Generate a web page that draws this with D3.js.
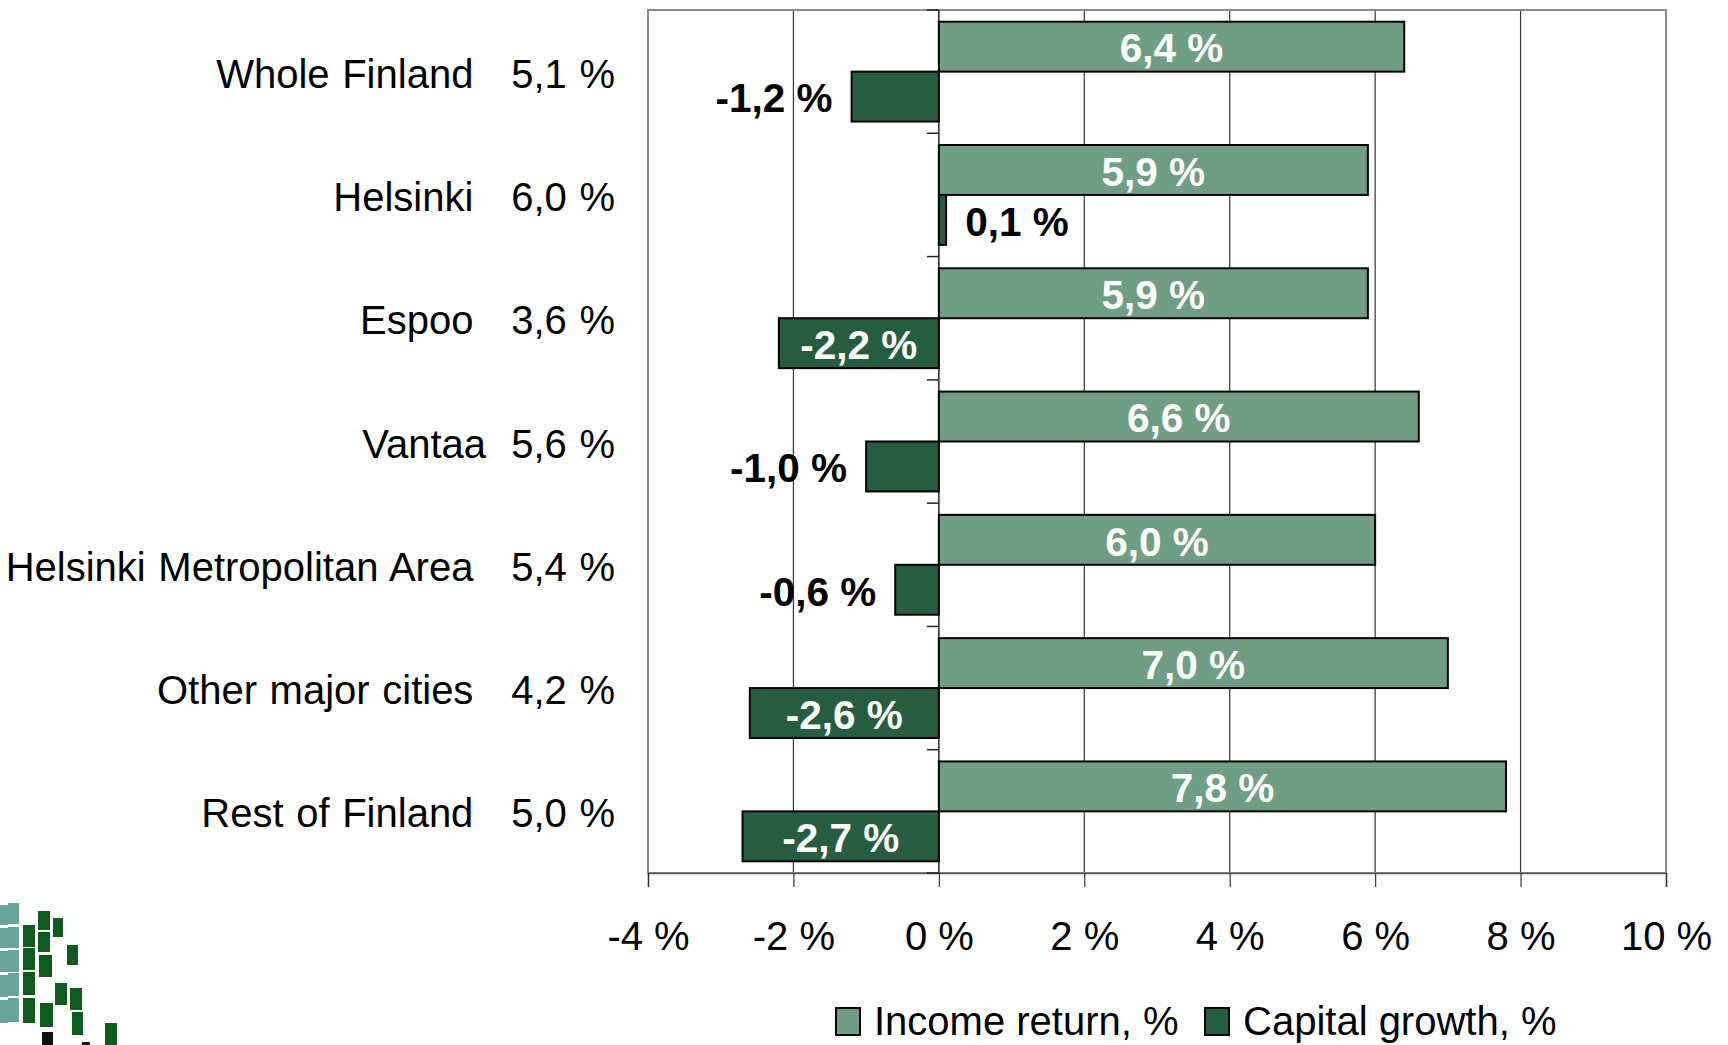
<!DOCTYPE html>
<html>
<head>
<meta charset="utf-8">
<script src="https://cdn.jsdelivr.net/npm/d3@7"></script>
<style>
  html, body { margin: 0; padding: 0; background: #fff; }
  svg { display: block; }
  svg text { font-family: Arial, "Liberation Sans", sans-serif; }
  .rowlabel { white-space: pre; word-spacing: 1.5px; }
</style>
</head>
<body>
<script>
'use strict';

// row labels as in the workbook (name + total return)
let rowLabels = [
  'Whole Finland   5,1 %',
  'Helsinki   6,0 %',
  'Espoo   3,6 %',
  'Vantaa  5,6 %',
  'Helsinki Metropolitan Area   5,4 %',
  'Other major cities   4,2 %',
  'Rest of Finland   5,0 %'
];
let incomeReturn = [6.4, 5.9, 5.9, 6.6, 6.0, 7.0, 7.8];
let capitalGrowth = [-1.2, 0.1, -2.2, -1.0, -0.6, -2.6, -2.7];
let seriesNames = ['Income return, %', 'Capital growth, %'];
let xTicks = [-4, -2, 0, 2, 4, 6, 8, 10];

let width = 1728;
let height = 1045;

let plot = { left: 648, right: 1666, top: 10, bottom: 873 };

let colors = ['#6f9e85', '#265c40'];

let x = d3.scaleLinear()
  .domain([-4, 10])
  .range([plot.left, plot.right]);

let y = d3.scaleBand()
  .domain(d3.range(rowLabels.length))
  .range([plot.top, plot.bottom])
  .paddingInner(0.19)
  .paddingOuter(0.095);

let ySeries = d3.scaleBand()
  .domain([0, 1])
  .range([0, y.bandwidth()]);

let fmt = (v) => v.toFixed(1).replace('.', ',') + ' %';

let svg = d3.select('body').append('svg')
  .attr('width', width)
  .attr('height', height);

// logo in the lower left corner
let logoCells = [
  [0, 905, 8, 20, '#6aa39b'], [8, 903, 11, 21, '#6aa39b'],
  [0, 928, 8, 20, '#6aa39b'], [8, 927, 11, 21, '#6aa39b'],
  [0, 951, 8, 21, '#6aa39b'], [8, 950, 11, 22, '#6aa39b'],
  [0, 975, 8, 22, '#6aa39b'], [8, 973, 11, 23, '#6aa39b'],
  [0, 1000, 8, 23, '#6aa39b'], [8, 998, 11, 24, '#6aa39b'],
  [23, 925, 12, 22, '#0f5a1c'], [38, 911, 12, 19, '#0f5a1c'],
  [53, 918, 10, 19, '#0f5a1c'], [38, 932, 12, 20, '#0f5a1c'],
  [23, 948, 12, 22, '#0f5a1c'], [39, 955, 13, 22, '#0f5a1c'],
  [67, 945, 11, 20, '#0f5a1c'], [23, 972, 12, 23, '#0f5a1c'],
  [55, 983, 12, 22, '#0f5a1c'], [70, 988, 12, 22, '#0f5a1c'],
  [23, 998, 12, 25, '#0f5a1c'], [40, 1003, 13, 24, '#0f5a1c'],
  [72, 1012, 11, 23, '#0f5a1c'], [105, 1023, 12, 22, '#0f5a1c'],
  [42, 1032, 11, 13, '#111'], [82, 1042, 8, 3, '#111']
];

svg.append('g').selectAll('rect')
  .data(logoCells)
  .enter().append('rect')
    .attr('x', (d) => d[0])
    .attr('y', (d) => d[1])
    .attr('width', (d) => d[2])
    .attr('height', (d) => d[3])
    .attr('fill', (d) => d[4]);

// vertical gridlines
svg.append('g').selectAll('line')
  .data(xTicks.filter((t) => t > -4 && t < 10 && t !== 0))
  .enter().append('line')
    .attr('x1', (d) => x(d)).attr('x2', (d) => x(d))
    .attr('y1', plot.top).attr('y2', plot.bottom)
    .attr('stroke', '#333')
    .attr('stroke-width', 1.2);

// plot frame
svg.append('rect')
  .attr('x', plot.left)
  .attr('y', plot.top)
  .attr('width', plot.right - plot.left)
  .attr('height', plot.bottom - plot.top)
  .attr('fill', 'none')
  .attr('stroke', '#8a8a8a')
  .attr('stroke-width', 2);

// bottom value axis
let xAxis = svg.append('g')
  .attr('transform', `translate(0,${plot.bottom})`)
  .call(d3.axisBottom(x)
    .tickValues(xTicks)
    .tickSize(14)
    .tickPadding(35)
    .tickFormat((d) => d + ' %'));

xAxis.attr('font-family', null);
xAxis.select('.domain').attr('stroke', '#555').attr('stroke-width', 1.5);
xAxis.selectAll('.tick line').attr('stroke', '#333').attr('stroke-width', 1.2);
xAxis.selectAll('.tick text')
  .attr('fill', '#000')
  .attr('font-size', 40);

// category axis on the zero line
let yAxis = svg.append('g')
  .attr('transform', `translate(${x(0)},0)`);

yAxis.append('line')
  .attr('y1', plot.top).attr('y2', plot.bottom)
  .attr('stroke', '#222')
  .attr('stroke-width', 1.5);

let bounds = d3.range(rowLabels.length + 1).map((i) => plot.top + i * y.step());
yAxis.selectAll('.ctick')
  .data(bounds)
  .enter().append('line')
    .attr('class', 'ctick')
    .attr('x1', -12).attr('x2', 0)
    .attr('y1', (d) => d).attr('y2', (d) => d)
    .attr('stroke', '#222')
    .attr('stroke-width', 1.5);

// bars
let series = [incomeReturn, capitalGrowth];

let groups = svg.append('g').selectAll('g')
  .data(rowLabels.map((r, i) => i))
  .enter().append('g')
    .attr('transform', (i) => `translate(0,${y(i)})`);

groups.selectAll('rect')
  .data((i) => series.map((s, k) => ({ k: k, v: s[i] })))
  .enter().append('rect')
    .attr('x', (d) => x(Math.min(0, d.v)))
    .attr('y', (d) => ySeries(d.k))
    .attr('width', (d) => Math.abs(x(d.v) - x(0)))
    .attr('height', ySeries.bandwidth())
    .attr('fill', (d) => colors[d.k])
    .attr('stroke', '#000')
    .attr('stroke-width', 2);

// data labels: centred inside when they fit, otherwise outside the bar end
let labelWidth = 105;
groups.selectAll('text.val')
  .data((i) => series.map((s, k) => ({ k: k, v: s[i] })))
  .enter().append('text')
    .attr('class', 'val')
    .attr('font-size', 40.5)
    .attr('font-weight', 'bold')
    .attr('dy', '0.39em')
    .attr('y', (d) => ySeries(d.k) + ySeries.bandwidth() / 2)
    .each(function(d) {
      let w = Math.abs(x(d.v) - x(0));
      let t = d3.select(this).text(fmt(d.v));
      if (w > labelWidth + 20) {
        t.attr('x', (x(d.v) + x(0)) / 2)
          .attr('text-anchor', 'middle')
          .attr('fill', '#fff');
      } else if (d.v < 0) {
        t.attr('x', x(d.v) - 19)
          .attr('text-anchor', 'end')
          .attr('fill', '#000');
      } else {
        t.attr('x', x(d.v) + 19)
          .attr('text-anchor', 'start')
          .attr('fill', '#000');
      }
    });

// row labels on the left
svg.append('g').selectAll('text')
  .data(rowLabels)
  .enter().append('text')
    .attr('class', 'rowlabel')
    .attr('x', 615)
    .attr('y', (d, i) => y(i) + y.bandwidth() / 2)
    .attr('dy', '0.4em')
    .attr('text-anchor', 'end')
    .attr('font-size', 40)
    .text((d) => d);

// legend
let legend = svg.append('g')
  .attr('transform', 'translate(836,1008)');

let legendItems = legend.selectAll('g')
  .data(seriesNames)
  .enter().append('g')
    .attr('transform', (d, i) => `translate(${i * 369},0)`);

legendItems.append('rect')
  .attr('width', 24)
  .attr('height', 27)
  .attr('fill', (d, i) => colors[i])
  .attr('stroke', '#000')
  .attr('stroke-width', 2);

legendItems.append('text')
  .attr('x', 38)
  .attr('y', 27)
  .attr('font-size', 40)
  .text((d) => d);
</script>
</body>
</html>
